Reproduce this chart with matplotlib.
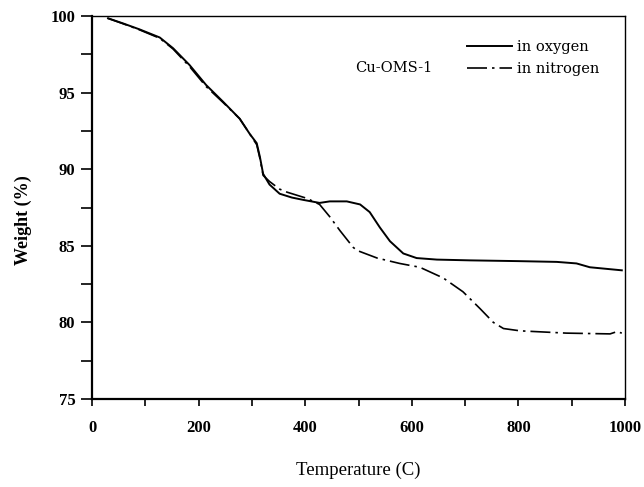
import matplotlib
matplotlib.use("Agg")
import matplotlib.pyplot as plt
from matplotlib.ticker import MultipleLocator

# TGA of Cu-OMS-1: temperature (C) vs. weight (%)
temp_oxygen = [30, 58, 89, 127, 152, 183, 214, 246, 277, 296, 309, 315, 321, 333,
               352, 375, 396, 427, 446, 478, 503, 521, 540, 559, 584, 609, 647,
               709, 800, 872, 909, 934, 994]
weight_oxygen = [99.85, 99.52, 99.13, 98.6, 97.9, 96.8, 95.5, 94.4, 93.3, 92.3, 91.7,
                 90.8, 89.7, 89.0, 88.4, 88.15, 88.0, 87.8, 87.9, 87.9, 87.7, 87.2,
                 86.2, 85.3, 84.5, 84.2, 84.1, 84.05, 84.0, 83.95, 83.85, 83.6, 83.4]

temp_nitrogen = [30, 58, 89, 127, 152, 183, 214, 246, 277, 296, 309, 315, 321, 333,
                 352, 366, 403, 427, 446, 465, 490, 497, 535, 577, 615, 659, 696,
                 728, 753, 772, 803, 890, 972, 985, 994]
weight_nitrogen = [99.85, 99.5, 99.1, 98.55, 97.85, 96.7, 95.4, 94.35, 93.3, 92.3, 91.6,
                   90.7, 89.6, 89.2, 88.7, 88.5, 88.1, 87.7, 86.9, 86.0, 84.9, 84.7,
                   84.2, 83.85, 83.6, 82.9, 82.0, 80.9, 80.0, 79.6, 79.45, 79.3,
                   79.25, 79.4, 79.3]

x_ticks = [0, 200, 400, 600, 800, 1000]
y_ticks = [75, 80, 85, 90, 95, 100]

serif = ["Liberation Serif", "DejaVu Serif"]
wide_serif = ["DejaVu Serif"]
plt.rcParams["font.family"] = serif

fig = plt.figure(figsize=(6.44, 4.87), dpi=100)
ax = fig.add_axes([0.1429, 0.1807, 0.8276, 0.7864])

ax.plot(temp_oxygen, weight_oxygen, color="black", lw=1.4, label="in oxygen")
ax.plot(temp_nitrogen, weight_nitrogen, color="black", lw=1.2,
        linestyle=(0, (12, 3, 1.5, 3)), label="in nitrogen")

ax.set_xlim(0, 1000)
ax.set_ylim(75, 100)
ax.set_xticks(x_ticks)
ax.set_yticks(y_ticks)
ax.xaxis.set_minor_locator(MultipleLocator(100))
ax.yaxis.set_minor_locator(MultipleLocator(2.5))
ax.tick_params(axis="y", which="both", direction="out", length=8, width=1.2, pad=4)
ax.tick_params(axis="x", which="both", direction="out", length=5, width=1.2, pad=10)
for lab in ax.get_xticklabels() + ax.get_yticklabels():
    lab.set_fontsize(12)
    lab.set_fontweight("bold")

for side, sp in ax.spines.items():
    sp.set_linewidth(1.6 if side in ("left", "bottom") else 1.0)

fig.text(23 / 644, 0.548, "Weight (%)", rotation=90, fontsize=13,
         fontweight="bold", ha="center", va="center")
fig.text(0.556, 1 - 470 / 487, "Temperature (C)", fontsize=13.5,
         ha="center", va="center")

ax.text(0.567, 0.864, "Cu-OMS-1", transform=ax.transAxes, fontsize=10.5,
        family=wide_serif, va="center", ha="center")
leg = ax.legend(loc="upper left", bbox_to_anchor=(0.692, 0.952), frameon=False,
                prop={"family": wide_serif, "size": 10.5},
                handlelength=3.1, handletextpad=0.35,
                labelspacing=0.55, borderaxespad=0.0)

fig.savefig("out.png", dpi=100)
